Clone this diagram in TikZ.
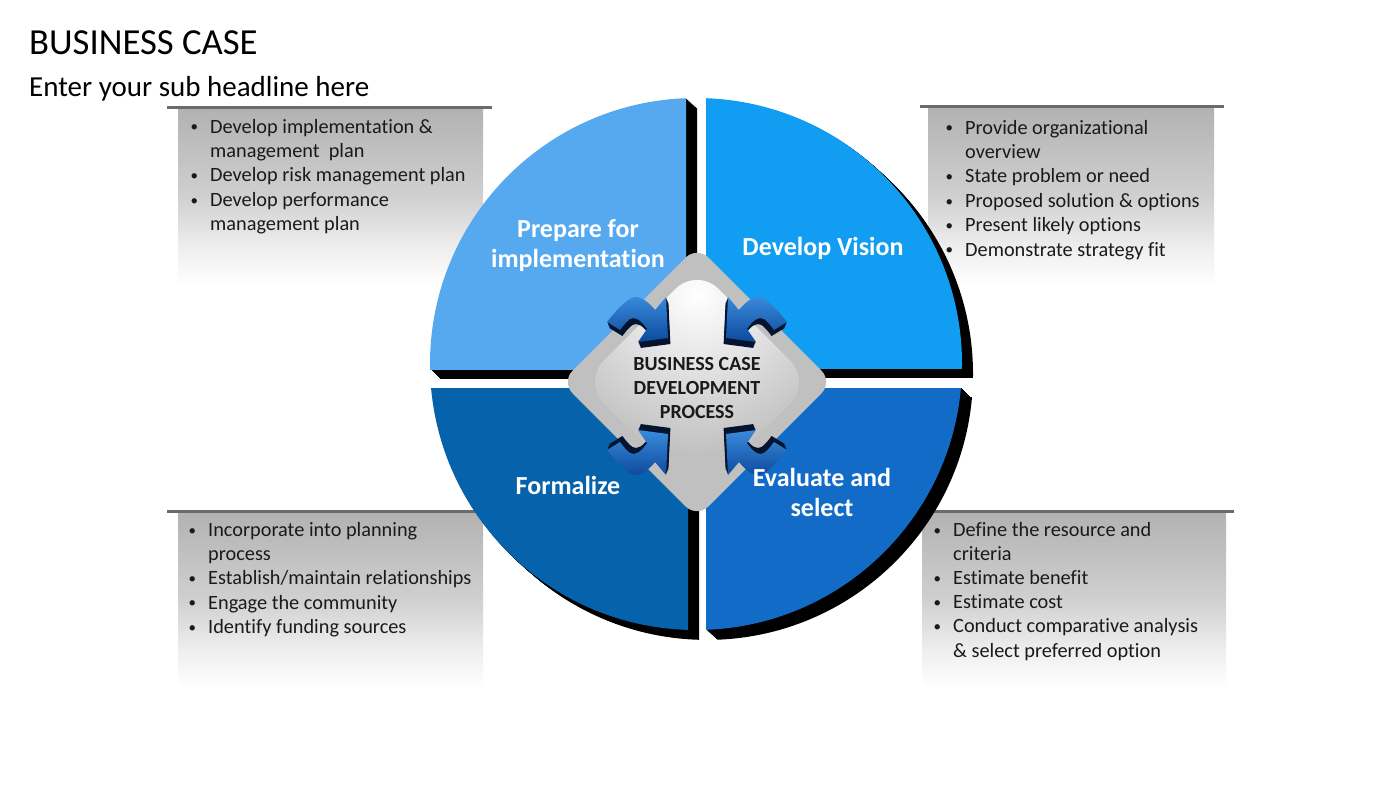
\documentclass[tikz,border=0pt]{standalone}
\usepackage{fontspec}
\setmainfont{Carlito}[Ligatures={NoCommon,NoContextual}]
\usetikzlibrary{calc}
\definecolor{qtl}{HTML}{56A9EF}
\definecolor{qtr}{HTML}{119DF2}
\definecolor{qbl}{HTML}{0662AA}
\definecolor{qbr}{HTML}{126CC7}
\definecolor{rulegray}{HTML}{6B6B6B}
\definecolor{boxtop}{HTML}{B2B2B2}
\definecolor{boxmid}{HTML}{D0D0D0}
\definecolor{boxlow}{HTML}{EEEEEE}
\definecolor{dgray}{HTML}{C0C0C0}
\definecolor{arrowlight}{HTML}{3A8ADC}
\definecolor{arrowdark}{HTML}{0C4A9C}
\definecolor{arrowshadow}{HTML}{05142E}
\definecolor{txt}{HTML}{1A1A1A}
\pgfdeclareverticalshading{boxshade}{100bp}{color(0bp)=(white); color(25bp)=(white); color(36bp)=(boxlow); color(50bp)=(boxmid); color(75bp)=(boxtop); color(100bp)=(boxtop)}
\newcommand\bul{\llap{\raisebox{1.2pt}{\fontsize{15}{15}\selectfont\textbullet}\hspace{12pt}}}
\newcommand\qpiece[5]{%
  \foreach \s in {1,...,11}{%
    \begin{scope}[shift={(\s,0.9*\s)}]
      \clip (#1,#2) rectangle (#3,#4);
      \fill[black] (696,364) circle[radius=266pt];
    \end{scope}}
  \begin{scope}
    \clip (#1,#2) rectangle (#3,#4);
    \fill[#5] (696,364) circle[radius=266pt];
  \end{scope}}
\tikzset{
  fancyarrow/.pic={
    \foreach \s in {1,...,6}{%
      \begin{scope}[shift={(0.4*\s,\s)}]
        \fill[arrowshadow] (-90,-60) .. controls (-82,-70) and (-72,-82) .. (-63,-85) .. controls (-55,-86) and (-47,-78) .. (-42,-72) -- (-31,-85) -- (-29,-44) -- (-59,-40) -- (-50,-53) .. controls (-56,-62) and (-62,-66) .. (-67,-63) .. controls (-71,-60) and (-74,-56) .. (-77,-52) -- cycle;
      \end{scope}}
    \shade[top color=arrowlight, bottom color=arrowdark] (-90,-60) .. controls (-82,-70) and (-72,-82) .. (-63,-85) .. controls (-55,-86) and (-47,-78) .. (-42,-72) -- (-31,-85) -- (-29,-44) -- (-59,-40) -- (-50,-53) .. controls (-56,-62) and (-62,-66) .. (-67,-63) .. controls (-71,-60) and (-74,-56) .. (-77,-52) -- cycle;
  }
}
\begin{document}
\begin{tikzpicture}[x=1pt,y=-1pt,
  btxt/.style={anchor=base west, inner sep=0pt, font=\fontsize{20.3}{24}\selectfont, text=txt},
  qlabel/.style={inner sep=0pt, text=white, align=center, font=\bfseries\fontsize{26}{30}\selectfont},
  boxrule/.style={rulegray, line width=3pt},
  infobox/.style={shading=boxshade}]
\useasboundingbox[fill=white] (0,0) rectangle (1400,788);

% title
\node[anchor=base west, inner sep=0pt, font=\fontsize{36.7}{43}\selectfont, text=black] (title) at (29,54) {BUSINESS CASE};
\node[anchor=base west, inner sep=0pt, font=\fontsize{29}{34}\selectfont, text=black] (subtitle) at (29,96) {Enter your sub headline here};

% info boxes
\shade[infobox] (178,109) rectangle (483,286);
\draw[boxrule] (167,107.5) -- (492,107.5);
\shade[infobox] (928,108) rectangle (1214,286);
\draw[boxrule] (920,106.5) -- (1224,106.5);
\shade[infobox] (178,512) rectangle (483,688);
\draw[boxrule] (167,511) -- (491,511);
\shade[infobox] (922,512) rectangle (1226,688);
\draw[boxrule] (921,511) -- (1234,511);

% quadrants
\qpiece{400}{80}{686}{369}{qtl}
\qpiece{706}{80}{1000}{368}{qtr}
\qpiece{400}{388}{688}{660}{qbl}
\qpiece{706}{388}{1000}{660}{qbr}

% centre diamond
\fill[dgray, rounded corners=16pt, rotate around={45:(697,382)}] (601,286) rectangle (793,478);
\begin{scope}
  \clip[rounded corners=30pt, rotate around={45:(697,382)}] (616,301) rectangle (778,463);
  \shade[inner color=white, outer color=dgray] (697,295) circle[radius=160pt];
\end{scope}

% arrows
\pic at (697,382) {fancyarrow};
\pic[xscale=-1] at (697,382) {fancyarrow};
\pic[yscale=-1] at (697,390) {fancyarrow};
\pic[xscale=-1,yscale=-1] at (697,390) {fancyarrow};

% quadrant labels
\node[qlabel] (prep) at (578,245.3) {Prepare for\\implementation};
\node[qlabel, anchor=base] (vision) at (823,255) {Develop Vision};
\node[qlabel, anchor=base] (formal) at (568,494) {Formalize};
\node[qlabel] (evalsel) at (822,492.5) {Evaluate and\\select};

% centre label
\node[inner sep=0pt, align=center, text=txt, font=\bfseries\fontsize{20}{24}\selectfont] (centre) at (697,388) {BUSINESS CASE\\DEVELOPMENT\\PROCESS};

% bullet texts
\foreach [count=\i] \t in {{\bul Develop implementation \&},{management\ \ plan},{\bul Develop risk management plan},{\bul Develop performance},{management plan}}
  \node[btxt] (tl\i) at (210,133+24.4*\i-24.4) {\t};
\foreach [count=\i] \t in {{\bul Provide organizational},{overview},{\bul State problem or need},{\bul Proposed solution \& options},{\bul Present likely options},{\bul Demonstrate strategy fit}}
  \node[btxt] (tr\i) at (965,134+24.4*\i-24.4) {\t};
\foreach [count=\i] \t in {{\bul Incorporate into planning},{process},{\bul Establish/maintain relationships},{\bul Engage the community},{\bul Identify funding sources}}
  \node[btxt] (bl\i) at (208,536.5+24.2*\i-24.2) {\t};
\foreach [count=\i] \t in {{\bul Define the resource and},{criteria},{\bul Estimate benefit},{\bul Estimate cost},{\bul Conduct comparative analysis},{\& select preferred option}}
  \node[btxt] (br\i) at (953,536.5+24.1*\i-24.1) {\t};
\end{tikzpicture}
\end{document}
